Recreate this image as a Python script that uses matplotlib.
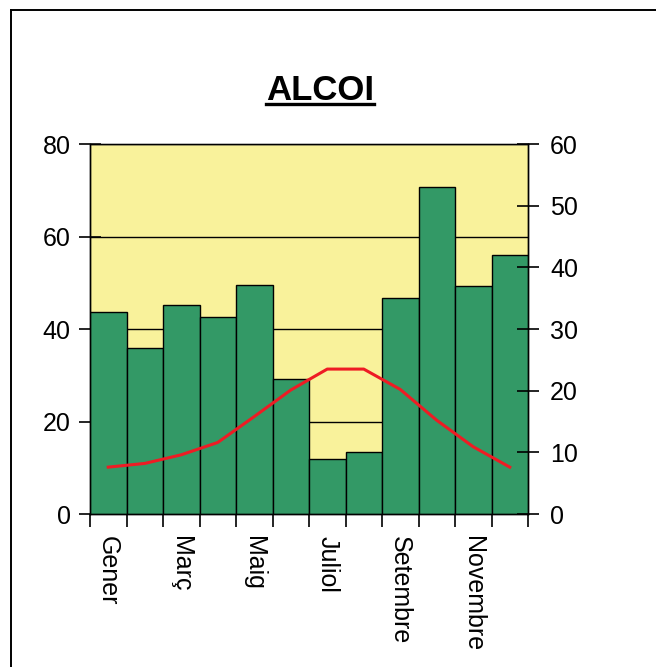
import matplotlib
matplotlib.use("Agg")
import matplotlib.pyplot as plt
from matplotlib.lines import Line2D

plt.rcParams['font.family'] = ['Liberation Sans', 'DejaVu Sans']

# Monthly climate data for Alcoi
months = ["Gener", "Febrer", "Març", "Abril", "Maig", "Juny",
          "Juliol", "Agost", "Setembre", "Octubre", "Novembre", "Desembre"]
precipitation = [43.6, 35.9, 45.2, 42.7, 49.6, 29.1, 11.8, 13.5, 46.7, 70.7, 49.2, 55.9]
temperature = [7.6, 8.2, 9.6, 11.6, 15.8, 20.1, 23.5, 23.5, 20.2, 15.2, 10.9, 7.6]

precip_ticks = [0, 20, 40, 60, 80]
temp_ticks = [0, 10, 20, 30, 40, 50, 60]

W, H = 656, 667
fig = plt.figure(figsize=(W / 100, H / 100), dpi=100)
fig.patch.set_facecolor("white")

# Frame lines around the chart area
fig.add_artist(Line2D([11 / W, 11 / W], [0, 1 - 10 / H], transform=fig.transFigure,
                      color="black", lw=1.4))
fig.add_artist(Line2D([11 / W, 1], [1 - 10 / H, 1 - 10 / H], transform=fig.transFigure,
                      color="black", lw=1.4))

ax = fig.add_axes([90 / W, 1 - 514 / H, (528 - 90) / W, (514 - 144) / H])
ax.set_facecolor("#F9F29B")

x = [i + 0.5 for i in range(len(months))]
ax.bar(x, precipitation, width=1.0, color="#339966", edgecolor="black",
       linewidth=1.0, zorder=3)
ax.set_xlim(0, 12)
ax.set_ylim(0, 80)
ax.set_yticks(precip_ticks)
ax.yaxis.grid(True, color="black", linewidth=1.0, zorder=0)
ax.set_axisbelow(True)

ax.set_xticks(range(13))
ax.set_xticklabels([])
ax.set_xticks(x[::2], minor=True)
ax.set_xticklabels(months[::2], minor=True, rotation=270, fontsize=18,
                   va="top", ha="center")
ax.tick_params(axis="x", which="minor", length=0, pad=16)
ax.tick_params(axis="x", which="major", direction="out", length=9, width=1.2)
ax.tick_params(axis="y", direction="inout", length=16, width=1.2,
               labelsize=18, pad=6)

for s in ax.spines.values():
    s.set_linewidth(1.0)
ax.spines["top"].set_color("#888888")

ax2 = ax.twinx()
ax2.plot(x, temperature, color="#EE1C24", linewidth=2.2, zorder=5)
ax2.set_ylim(0, 60)
ax2.set_yticks(temp_ticks)
ax2.tick_params(axis="y", direction="inout", length=16, width=1.2,
                labelsize=18, pad=8)
for s in ax2.spines.values():
    s.set_linewidth(1.0)

# Underlined title
title = fig.text(320 / W, 1 - 100 / H, "ALCOI", fontsize=25, fontweight="bold",
                 ha="center", va="baseline")
fig.canvas.draw()
bb = title.get_window_extent().transformed(fig.transFigure.inverted())
fig.add_artist(Line2D([bb.x0, bb.x1], [1 - 104 / H, 1 - 104 / H],
                      transform=fig.transFigure, color="black", lw=2.4))

fig.savefig("out.png", dpi=100)
